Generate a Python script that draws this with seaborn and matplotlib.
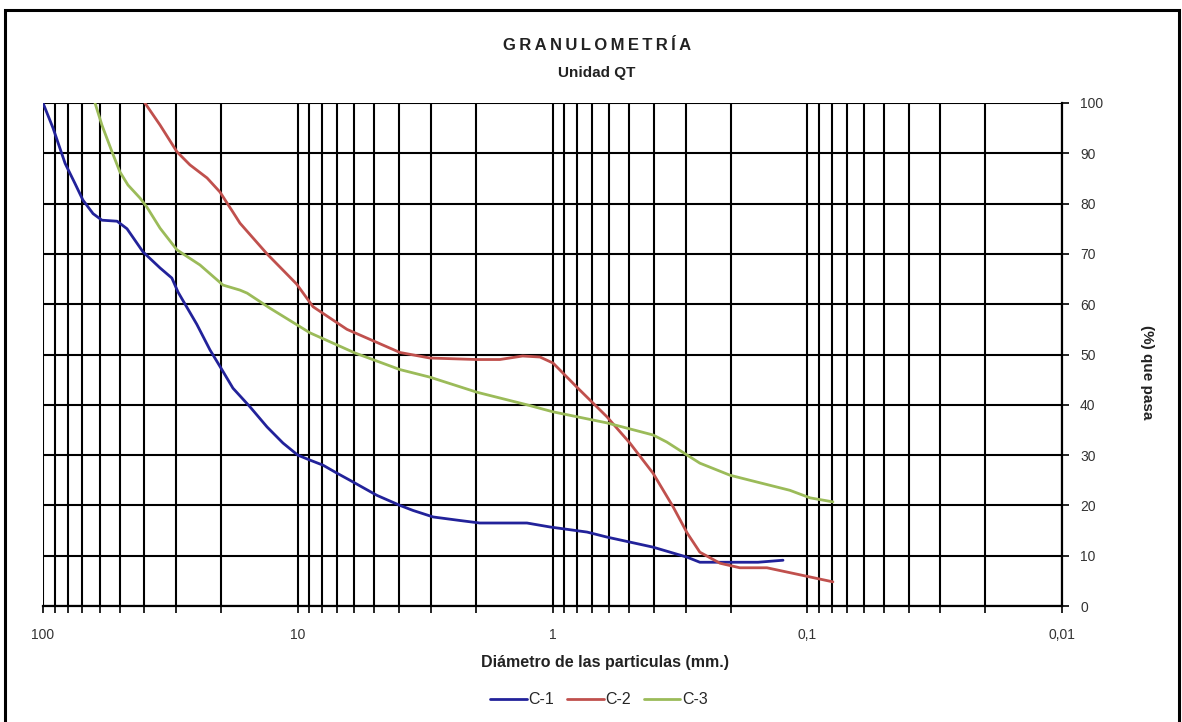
import numpy as np
import pandas as pd
import matplotlib
matplotlib.use("Agg")
import matplotlib.pyplot as plt
from matplotlib.patches import Rectangle
from matplotlib.lines import Line2D
import seaborn as sns

# ---- data (diameter in mm, % passing) ----
c1_mm = [100, 91.3, 81.9, 74.9, 69.7, 63.6, 58.7, 51.2, 46.8, 40.5, 34.7, 31.2, 29.5, 24.9,
         22.1, 19.8, 17.96, 15.4, 13.2, 11.43, 10.0, 8.95, 7.96, 7.01, 6.24, 4.89, 3.97, 3.53,
         2.94, 2.31, 1.93, 1.26, 1.02, 0.732, 0.611, 0.403, 0.296, 0.264, 0.241, 0.156, 0.1245]
c1_pct = [100, 95, 88, 84, 80.7, 78, 76.7, 76.5, 75, 70.4, 67.2, 65.2, 62.4, 56,
          50.9, 46.9, 43.3, 39.6, 35.6, 32.4, 30, 29, 28, 26.4, 25, 22, 20, 19,
          17.7, 17, 16.5, 16.5, 15.7, 14.7, 13.7, 11.7, 9.7, 8.7, 8.7, 8.7, 9.1]

c2_mm = [39.8, 34.7, 29.8, 26.5, 22.7, 20.2, 17.96, 16.85, 13.2, 10.1, 8.71, 6.41, 3.97,
         3.03, 1.98, 1.61, 1.31, 1.12, 0.995, 0.802, 0.611, 0.497, 0.403, 0.336, 0.296,
         0.264, 0.220, 0.184, 0.144, 0.1068, 0.0793]
c2_pct = [100, 95.6, 90.3, 87.7, 85.1, 82.3, 78.3, 76.1, 70, 64, 59.5, 55, 50.4,
          49.3, 49, 49, 49.7, 49.5, 48.3, 43.5, 37.6, 32.4, 26.4, 19.7, 14.5,
          10.7, 8.5, 7.6, 7.6, 6.2, 4.8]

c3_mm = [62.5, 58.7, 53.6, 49.9, 46.4, 41.6, 39.1, 34.7, 29.8, 24.2, 19.65, 16.85, 15.8,
         12.85, 8.95, 5.96, 3.97, 3.03, 1.98, 1.26, 0.995, 0.611, 0.403, 0.356, 0.296,
         0.264, 0.201, 0.168, 0.117, 0.0975, 0.0793]
c3_pct = [100, 95.6, 90.3, 86.3, 83.7, 81.1, 79.3, 75.1, 70.8, 67.8, 63.8, 62.8, 62.2,
          59.2, 54.3, 50.3, 47, 45.5, 42.5, 40, 38.6, 36.4, 34, 32.6, 30,
          28.4, 26, 25, 23, 21.5, 20.7]

series_names = ["C-1", "C-2", "C-3"]
series_colors = ["#22229a", "#c0504d", "#9bbb59"]

major_ticks = [100, 10, 1, 0.1, 0.01]
major_labels = ["100", "10", "1", "0,1", "0,01"]
y_ticks = [0, 10, 20, 30, 40, 50, 60, 70, 80, 90, 100]

title = "GRANULOMETRÍA"
subtitle = "Unidad QT"
xlabel = "Diámetro de las particulas (mm.)"
ylabel = "(%) que pasa"

df = pd.concat([
    pd.DataFrame({"mm": c1_mm, "pct": c1_pct, "serie": "C-1"}),
    pd.DataFrame({"mm": c2_mm, "pct": c2_pct, "serie": "C-2"}),
    pd.DataFrame({"mm": c3_mm, "pct": c3_pct, "serie": "C-3"}),
], ignore_index=True)

sns.set_theme(style="white")
plt.rcParams["font.family"] = ["Liberation Sans", "DejaVu Sans"]

fig = plt.figure(figsize=(11.82, 7.22), dpi=100)
ax = fig.add_axes([43 / 1182, 1 - 606 / 722, (1062 - 43) / 1182, (606 - 103) / 722])

sns.lineplot(data=df, x="mm", y="pct", hue="serie", hue_order=series_names,
             palette=series_colors, estimator=None, sort=False, linewidth=2.0,
             legend=False, ax=ax, zorder=3)

ax.set_xscale("log")
ax.set_xlim(100, 0.01)
ax.set_ylim(0, 100)

minor = []
for dec in [10, 1, 0.1, 0.01]:
    for k in range(2, 10):
        minor.append(dec * k)
ax.set_xticks(major_ticks)
ax.set_xticklabels(major_labels)
ax.set_xticks(minor, minor=True)
ax.xaxis.set_minor_formatter(matplotlib.ticker.NullFormatter())
ax.set_yticks(y_ticks)
ax.set_yticklabels([str(v) for v in y_ticks])
ax.yaxis.tick_right()

ax.grid(True, which="both", axis="x", color="black", linewidth=1.5, zorder=1)
ax.grid(True, which="major", axis="y", color="black", linewidth=1.5, zorder=1)
ax.set_axisbelow(True)

ax.tick_params(axis="x", which="both", direction="out", length=5, width=1.2,
               colors="black", labelcolor="#333333", labelsize=10, pad=11, bottom=True)
ax.tick_params(axis="y", which="major", direction="out", length=5, width=1.2,
               colors="black", labelcolor="#333333", labelsize=10, pad=8, right=True, left=False)

for side in ["left", "top"]:
    ax.spines[side].set_visible(False)
for side in ["right", "bottom"]:
    ax.spines[side].set_color("black")
    ax.spines[side].set_linewidth(1.6)

ax.set_xlabel("")
ax.set_ylabel("")

fig.text(597 / 1182, 1 - 45 / 722, "\u2009".join(title), ha="center", va="center",
         fontsize=12, fontweight="bold", color="#222222")
fig.text(597 / 1182, 1 - 73 / 722, subtitle, ha="center", va="center",
         fontsize=11, fontweight="bold", color="#222222")
fig.text(605 / 1182, 1 - 662 / 722, xlabel, ha="center", va="center",
         fontsize=11.5, fontweight="bold", color="#222222")
fig.text(1147 / 1182, 1 - 372 / 722, ylabel, ha="center", va="center", rotation=270,
         fontsize=11, fontweight="bold", color="#222222")

# legend
handles = [Line2D([0], [0], color=c, lw=2) for c in series_colors]
fig.legend(handles, series_names, loc="center", bbox_to_anchor=(599 / 1182, 1 - 700 / 722),
           ncol=3, frameon=False, fontsize=11.5, handlelength=2.3, handletextpad=0.1,
           columnspacing=0.8)

# outer frame
fig.patches.append(Rectangle((5 / 1182, -0.02), (1179 - 5) / 1182, 1 - 10 / 722 + 0.02,
                             transform=fig.transFigure, fill=False, edgecolor="black",
                             linewidth=2.2))

fig.savefig("out.png", dpi=100)
